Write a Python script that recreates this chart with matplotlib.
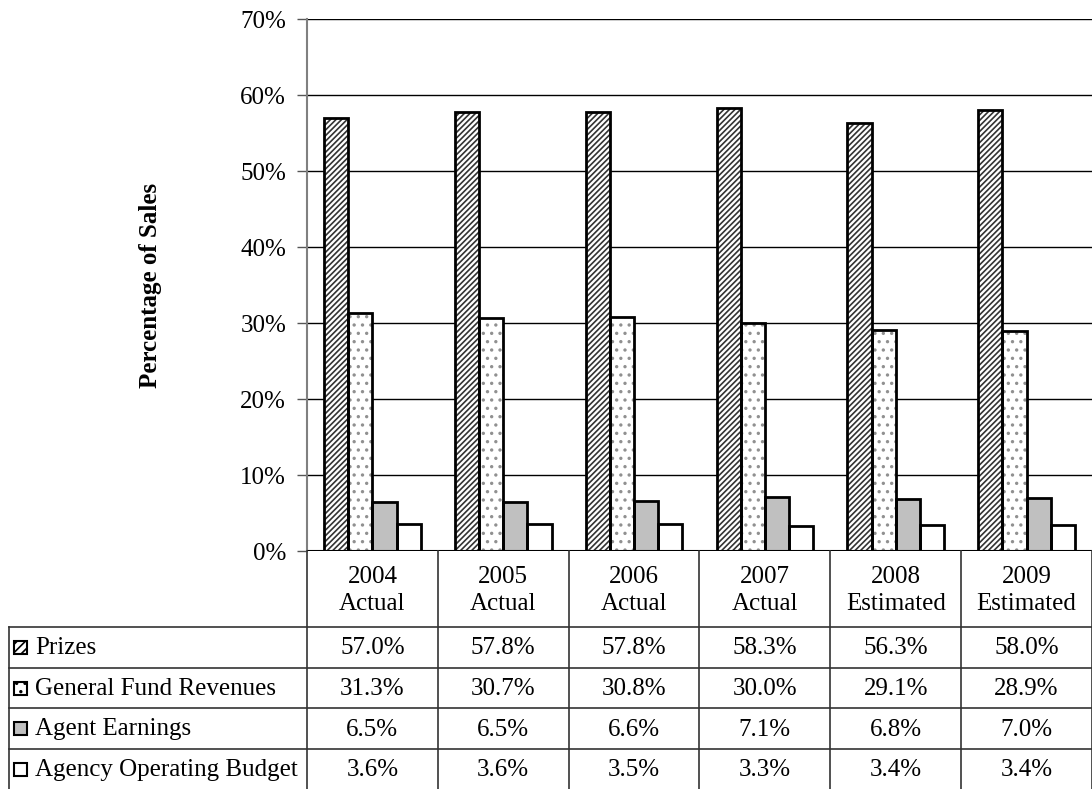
import matplotlib.pyplot as plt
import matplotlib.patches as mpatches
import numpy as np

plt.rcParams['font.family'] = ['Liberation Serif', 'DejaVu Serif']
plt.rcParams['hatch.linewidth'] = 1.2

years = ['2004\nActual', '2005\nActual', '2006\nActual', '2007\nActual', '2008\nEstimated', '2009\nEstimated']
series = ['Prizes', 'General Fund Revenues', 'Agent Earnings', 'Agency Operating Budget']
prizes = [57.0, 57.8, 57.8, 58.3, 56.3, 58.0]
general_fund = [31.3, 30.7, 30.8, 30.0, 29.1, 28.9]
agent = [6.5, 6.5, 6.6, 7.1, 6.8, 7.0]
agency = [3.6, 3.6, 3.5, 3.3, 3.4, 3.4]
values = [prizes, general_fund, agent, agency]

faces = ['white', 'white', '#c0c0c0', 'white']
hatches = ['//////', '..', None, None]
sw_hatches = ['////', '..', None, None]
hatch_cols = ['#333333', '#909090', 'black', 'black']

W, H = 1092, 789
fig = plt.figure(figsize=(W / 100, H / 100), dpi=100)

def fx(px):
    return px / W

def fy(py):
    return 1 - py / H

ax_l, ax_r, ax_t, ax_b = 307, 1092, 19, 551
ax = fig.add_axes([fx(ax_l), fy(ax_b), fx(ax_r - ax_l), (ax_b - ax_t) / H])

x = np.arange(len(years)) + 0.5
bw = 0.185
for i, vals in enumerate(values):
    ax.bar(x + (i - 1.5) * bw, vals, bw, facecolor=faces[i], edgecolor=hatch_cols[i],
           hatch=hatches[i], linewidth=0, zorder=3)
    ax.bar(x + (i - 1.5) * bw, vals, bw, facecolor='none', edgecolor='black',
           linewidth=2, zorder=4)

ax.set_xlim(0, 6)
ax.set_ylim(0, 70)
ax.set_yticks(range(0, 71, 10))
ax.set_yticklabels([f'{v}%' for v in range(0, 71, 10)], fontsize=18)
ax.set_xticks([])
ax.yaxis.grid(True, color='black', linewidth=1)
ax.set_axisbelow(True)
for s in ['top', 'right', 'bottom']:
    ax.spines[s].set_visible(False)
ax.spines['left'].set_color('#808080')
ax.spines['left'].set_linewidth(1.5)
ax.tick_params(axis='y', length=7, width=1, color='#555555', pad=8)
ax.axhline(0, color='black', linewidth=1.5, zorder=5)

fig.text(fx(151), fy(285), 'Percentage of Sales', rotation=90, fontsize=18,
         fontweight='bold', ha='center', va='center')

# data table below the axes
line_kw = dict(color='#333333', linewidth=1.2)
col_w = (ax_r - ax_l) / 6
row_y = [627, 668, 708, 749, 789]
tl = 9
for k in range(1, 7):
    xx = ax_l + k * col_w
    fig.add_artist(plt.Line2D([fx(xx), fx(xx)], [fy(551), fy(789)], **line_kw))
fig.add_artist(plt.Line2D([fx(ax_l), fx(ax_l)], [fy(551), fy(789)], **line_kw))
fig.add_artist(plt.Line2D([fx(tl), fx(tl)], [fy(627), fy(789)], **line_kw))
for yy in row_y[:-1]:
    fig.add_artist(plt.Line2D([fx(tl), fx(W)], [fy(yy), fy(yy)], **line_kw))

for k, lab in enumerate(years):
    cx = ax_l + (k + 0.5) * col_w
    top, bot = lab.split('\n')
    fig.text(fx(cx), fy(577), top, fontsize=18, ha='center', va='center')
    fig.text(fx(cx), fy(604), bot, fontsize=18, ha='center', va='center')

for r, (name, vals) in enumerate(zip(series, values)):
    cy = (row_y[r] + row_y[r + 1]) / 2
    sw = 13
    sq = mpatches.Rectangle((fx(14), fy(cy + sw / 2)), fx(sw), sw / H,
                            facecolor=faces[r], edgecolor='black', linewidth=1.5,
                            hatch=sw_hatches[r], transform=fig.transFigure)
    fig.add_artist(sq)
    fig.text(fx(35), fy(cy + 1), name, fontsize=18, ha='left', va='center')
    for k, v in enumerate(vals):
        cx = ax_l + (k + 0.5) * col_w
        fig.text(fx(cx), fy(cy + 1), f'{v:.1f}%', fontsize=18, ha='center', va='center')

fig.savefig('out.png', dpi=100)
